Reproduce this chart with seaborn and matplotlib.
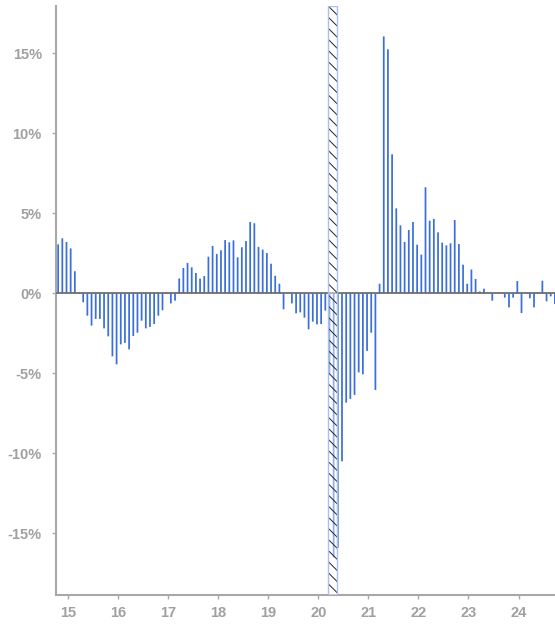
import numpy as np
import pandas as pd
import matplotlib
matplotlib.use('Agg')
import matplotlib.pyplot as plt
import seaborn as sns

# monthly year-over-year change (%), starting Oct 2014
start_year = 2014
start_month = 10
yoy_pct = [
    3.06, 3.44, 3.21, 2.81, 1.38, 0.05, -0.56, -1.40, -2.02, -1.60,
    -1.60, -2.19, -2.69, -3.94, -4.44, -3.19, -3.10, -3.50, -2.67, -2.46,
    -1.71, -2.19, -2.10, -1.92, -1.40, -1.06, 0.06, -0.63, -0.46, 0.93,
    1.58, 1.90, 1.63, 1.27, 0.92, 1.08, 2.29, 2.96, 2.46, 2.69,
    3.33, 3.19, 3.31, 2.25, 2.88, 3.27, 4.46, 4.38, 2.90, 2.73,
    2.52, 1.85, 1.10, 0.60, -1.00, 0.00, -0.63, -1.25, -1.19, -1.52,
    -2.25, -1.77, -1.94, -1.92, -1.08, -5.05, -16.5, -15.9, -10.5, -6.83,
    -6.60, -6.35, -4.94, -5.06, -3.60, -2.46, -6.04, 0.60, 16.06, 15.25,
    8.69, 5.31, 4.25, 3.21, 3.96, 4.46, 3.04, 2.42, 6.63, 4.54,
    4.65, 3.81, 3.17, 3.00, 3.13, 4.58, 3.08, 1.79, 0.60, 1.49,
    0.90, 0.12, 0.29, 0.00, -0.46, 0.00, 0.00, -0.27, -0.88, -0.27,
    0.77, -1.23, 0.00, -0.31, -0.88, 0.06, 0.79, -0.50, -0.19, -0.67,
]

# recession shading (decimal years, 2-digit axis)
recession_start = 20.19
recession_end = 20.38

year_ticks = [15, 16, 17, 18, 19, 20, 21, 22, 23, 24]
pct_ticks = [-15, -10, -5, 0, 5, 10, 15]

# x position = two-digit year + fraction of the month
months = np.arange(len(yoy_pct))
xpos = (start_year - 2000) + (start_month - 1 + months + 0.7) / 12
df = pd.DataFrame({'x': xpos, 'yoy': yoy_pct})

sns.set_style('white')
plt.rcParams['font.family'] = ['Liberation Sans', 'DejaVu Sans']
plt.rcParams['hatch.linewidth'] = 0.7

fig = plt.figure(figsize=(5.55, 6.24), dpi=100)
ax = fig.add_axes([0.1004, 0.046, 0.8996, 0.9444])

sns.barplot(data=df, x='x', y='yoy', native_scale=True, color='#3b6fdc',
            saturation=1, width=0.42, errorbar=None, linewidth=0,
            edgecolor='none', ax=ax, zorder=2)
# no pixel snapping, so every bar gets the same width
for bar in ax.patches:
    bar.set_snap(False)

ax.axhline(0, color='#6e6e6e', lw=1.3, zorder=3)

# recession band: hatch + light blue border
ax.axvspan(recession_start, recession_end, facecolor=(1, 1, 1, 0.45),
           edgecolor='#222222', hatch='\\\\\\', lw=0, zorder=4)
ax.axvspan(recession_start, recession_end, facecolor='none',
           edgecolor='#a9bff0', lw=1.0, zorder=5)

ax.set_xlim(14.76, 24.727)
ax.set_ylim(-18.875, 17.96)

ax.set_xticks(year_ticks)
ax.set_xticklabels([str(y) for y in year_ticks])
ax.set_yticks(pct_ticks)
ax.set_yticklabels([f'{p}%' for p in pct_ticks])
ax.set_xlabel('')
ax.set_ylabel('')

for s in ['top', 'right']:
    ax.spines[s].set_visible(False)
for s in ['left', 'bottom']:
    ax.spines[s].set_color('#a8a8a8')
    ax.spines[s].set_linewidth(1.5)

ax.tick_params(axis='both', colors='#a8a8a8', length=3, width=1,
               labelsize=10.5, labelcolor='#a0a0a0')
ax.tick_params(axis='y', pad=7, left=True)
ax.tick_params(axis='x', pad=5, bottom=True)
for lbl in ax.get_xticklabels() + ax.get_yticklabels():
    lbl.set_fontweight('bold')

plt.savefig('out.png', dpi=100)
plt.close()
